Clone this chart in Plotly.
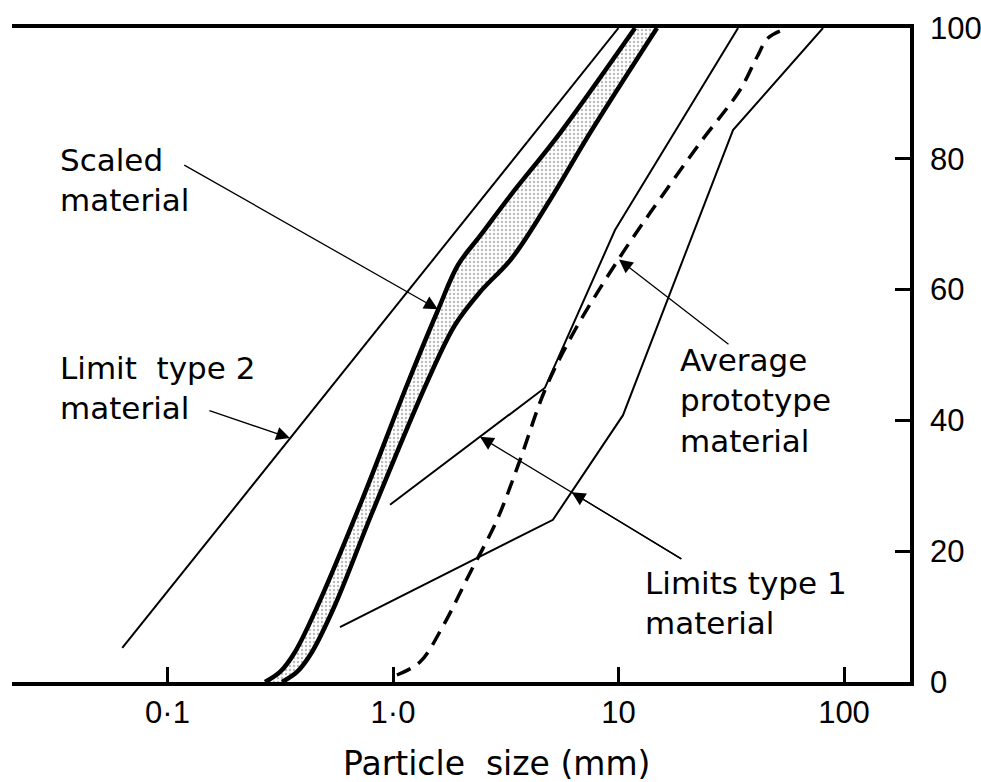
import numpy as np
import plotly.graph_objects as go

# Grading curves: particle size (mm) against percentage passing
limit2_size = [0.063, 10.0]
limit2_pass = [5.2, 100]

scaled_fine_size = [0.2706, 0.3154, 0.3676, 0.4648, 0.7288, 1.1536, 1.5832,
                    1.9420, 2.4310, 3.3026, 5.5036, 11.836]
scaled_fine_pass = [0, 1.53, 4.59, 11.77, 27.83, 45.41, 56.88,
                    63.76, 68.20, 74.31, 83.94, 100]

scaled_coarse_size = [0.3220, 0.3752, 0.4373, 0.5532, 0.8071, 1.4300, 1.8833,
                      2.4310, 3.3710, 4.9677, 7.4735, 14.818]
scaled_coarse_pass = [0, 1.53, 4.59, 11.77, 25.84, 46.18, 54.59,
                      59.63, 64.83, 73.70, 83.94, 100]

proto_size = [1.041, 1.317, 1.649, 2.195, 2.892, 3.658, 4.721, 6.413,
              10.15, 13.79, 22.98, 34.58, 41.14, 46.03, 54.75]
proto_pass = [1.07, 3.06, 8.26, 16.67, 24.77, 33.94, 44.65, 53.82,
              64.98, 71.71, 82.42, 90.52, 95.57, 98.47, 99.85]

limit1_fine_size = [0.97, 4.72, 9.65, 33.9]
limit1_fine_pass = [27.1, 45.0, 69.1, 100]

limit1_coarse_size = [0.582, 5.12, 10.47, 32.2, 80.7]
limit1_coarse_pass = [8.4, 24.8, 40.8, 84.4, 100]

x_tickvals = [0.1, 1, 10, 100]
x_ticktext = ["0·1", "1·0", "10", "100"]
y_tickvals = [0, 20, 40, 60, 80, 100]

TEXT_FONT = dict(family="DejaVu Sans", size=31, color="black")
TICK_FONT = dict(family="Liberation Sans", size=31, color="black")

fig = go.Figure()

# Scaled material band: coarse boundary, then fine boundary filled back to it
fig.add_trace(go.Scatter(
    x=scaled_coarse_size, y=scaled_coarse_pass, mode="lines",
    line=dict(color="black", width=4.5, shape="spline", smoothing=1.0),
    hoverinfo="skip"))
fig.add_trace(go.Scatter(
    x=scaled_fine_size, y=scaled_fine_pass, mode="lines",
    line=dict(color="black", width=4.5, shape="spline", smoothing=1.0),
    fill="tonexty", fillcolor="rgba(0,0,0,0)",
    fillpattern=dict(shape=".", fgcolor="#7a7a7a", bgcolor="white",
                     size=4, solidity=0.3),
    hoverinfo="skip"))

fig.add_trace(go.Scatter(
    x=limit2_size, y=limit2_pass, mode="lines",
    line=dict(color="black", width=2), hoverinfo="skip"))

fig.add_trace(go.Scatter(
    x=proto_size, y=proto_pass, mode="lines",
    line=dict(color="black", width=3.5, dash="15px,9px",
              shape="spline", smoothing=1.0),
    hoverinfo="skip"))

fig.add_trace(go.Scatter(
    x=limit1_fine_size, y=limit1_fine_pass, mode="lines",
    line=dict(color="black", width=2), hoverinfo="skip"))
fig.add_trace(go.Scatter(
    x=limit1_coarse_size, y=limit1_coarse_pass, mode="lines",
    line=dict(color="black", width=2), hoverinfo="skip"))

# Leader arrows (tips on the curves, tails offset in pixels)
arrows = [
    (1.58, 57.0, -255, -145),
    (0.349, 37.3, -82, -28),
    (10.05, 64.6, 111, 86),
    (2.43, 37.5, 203, 123),
    (6.2, 29.0, 111, 67.5),
]
for sx, sy, ax, ay in arrows:
    fig.add_annotation(
        x=np.log10(sx), y=sy, xref="x", yref="y", text="",
        showarrow=True, arrowhead=2, arrowsize=2.1, arrowwidth=1.3,
        arrowcolor="black", ax=ax, ay=ay, standoff=0)

labels = [
    ("Scaled<br>material", 0.0512, 0.767),
    ("Limit  type 2<br>material", 0.0512, 0.449),
    ("Average<br>prototype<br>material", 0.7416, 0.431),
    ("Limits type 1<br>material", 0.703, 0.121),
]
for txt, px, py in labels:
    fig.add_annotation(
        x=px, y=py, xref="paper", yref="paper", text=txt,
        showarrow=False, xanchor="left", yanchor="middle", align="left",
        font=TEXT_FONT)

fig.add_annotation(
    x=0.540, y=-0.124, xref="paper", yref="paper",
    text="Particle  size (mm)", showarrow=False,
    xanchor="center", yanchor="middle",
    font=dict(family="DejaVu Sans", size=33, color="black"))

fig.update_xaxes(
    type="log", range=[-1.6896, 2.2927], automargin=False,
    tickvals=x_tickvals, ticktext=x_ticktext,
    ticks="inside", ticklen=15, tickwidth=2.5, tickcolor="black",
    showline=True, linecolor="black", linewidth=4, mirror=True,
    showgrid=False, zeroline=False, tickfont=TICK_FONT,
    ticklabelstandoff=0)
fig.update_yaxes(
    range=[0, 100], side="right", tickvals=y_tickvals, automargin=False,
    ticks="inside", ticklen=15, tickwidth=2.5, tickcolor="black",
    showline=True, linecolor="black", linewidth=3.5,
    showgrid=False, zeroline=False, tickfont=TICK_FONT,
    ticklabelstandoff=10)

fig.update_layout(
    width=981, height=782,
    margin=dict(l=12, r=71, t=28, b=100),
    paper_bgcolor="white", plot_bgcolor="white",
    showlegend=False)

fig.write_html("out.html")
